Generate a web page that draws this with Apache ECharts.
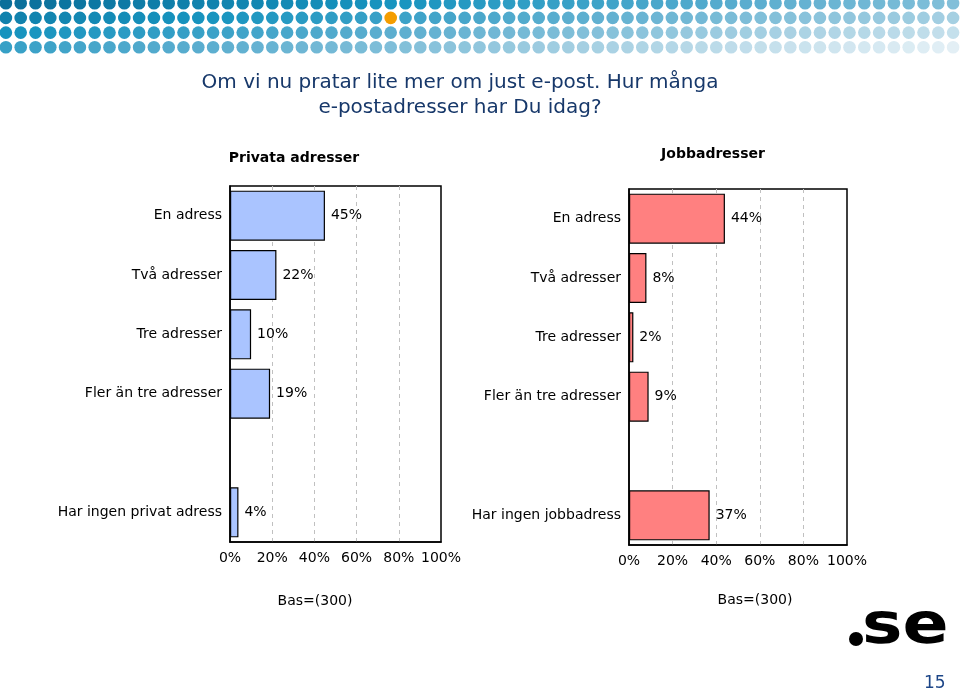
<!DOCTYPE html>
<html>
<head>
<meta charset="utf-8">
<script src="https://cdn.jsdelivr.net/npm/echarts@6/dist/echarts.min.js"></script>
<style>
html,body{margin:0;padding:0;background:#fff;}
#c{width:960px;height:691px;}
</style>
</head>
<body>
<div id="c"></div>
<script>
// ---- data ----
const categoriesPrivate = ['En adress', 'Två adresser', 'Tre adresser', 'Fler än tre adresser', '', 'Har ingen privat adress'];
const valuesPrivate = [45, 22, 10, 19, '-', 4];
const categoriesJob = ['En adress', 'Två adresser', 'Tre adresser', 'Fler än tre adresser', '', 'Har ingen jobbadress'];
const valuesJob = [44, 8, 2, 9, '-', 37];
const xTicks = [0, 20, 40, 60, 80, 100];
const titleLines = ['Om vi nu pratar lite mer om just e-post. Hur många', 'e-postadresser har Du idag?'];
const panelTitles = ['Privata adresser', 'Jobbadresser'];
const baseText = 'Bas=(300)';

// ---- decorative dot band ----
function lerp(a, b, t) { return a + (b - a) * t; }
function hex(c) { return [parseInt(c.slice(1,3),16), parseInt(c.slice(3,5),16), parseInt(c.slice(5,7),16)]; }
const palette = ['#0a6f9a', '#1794bf', '#5eafd0', '#a8d1e3', '#e8f2f7'].map(hex);
function colorAt(t) {
  t = Math.max(0, Math.min(1, t));
  const s = t * (palette.length - 1);
  const i = Math.min(palette.length - 2, Math.floor(s));
  const f = s - i;
  const c = palette[i].map((v, k) => Math.round(lerp(v, palette[i+1][k], f)));
  return 'rgb(' + c.join(',') + ')';
}
const dots = [];
for (let r = 0; r < 4; r++) {
  for (let c = 0; c < 65; c++) {
    const orange = (r === 1 && c === 26);
    dots.push({
      type: 'circle',
      silent: true,
      shape: { cx: 5.9 + c * 14.8, cy: 3.2 + r * 14.7, r: 6.3 },
      style: { fill: orange ? '#f49d00' : colorAt(c / 64 * 0.62 + r * 0.12) }
    });
  }
}

const font = 'DejaVu Sans, Verdana, sans-serif';
const chart = echarts.init(document.getElementById('c'), null, { renderer: 'canvas' });

function xAxisCfg(gi) {
  return {
    type: 'value', gridIndex: gi, min: 0, max: 100, interval: 20,
    axisLine: { show: true, lineStyle: { color: '#000', width: 1.5 } },
    axisTick: { show: false },
    axisLabel: { color: '#000', fontSize: 14, fontFamily: font, margin: 9,
      formatter: v => xTicks.indexOf(v) >= 0 ? v + '%' : '' },
    splitLine: { show: true, showMinLine: false, showMaxLine: false,
      lineStyle: { color: '#c0c0c0', type: [4, 4], width: 1 } }
  };
}
function yAxisCfg(gi, cats) {
  return {
    type: 'category', gridIndex: gi, data: cats, inverse: true,
    axisLine: { show: true, lineStyle: { color: '#000', width: 1.5 } },
    axisTick: { show: false },
    axisLabel: { color: '#000', fontSize: 14, fontFamily: font, margin: 8 }
  };
}
function barSeries(idx, vals, color) {
  return {
    type: 'bar', xAxisIndex: idx, yAxisIndex: idx, data: vals,
    barWidth: 50,
    itemStyle: { color: color, borderColor: '#000', borderWidth: 1.2 },
    label: { show: true, position: 'right', distance: 6, color: '#000', fontSize: 14,
      fontFamily: font, formatter: p => p.value + '%' },
    silent: true, animation: false
  };
}

chart.setOption({
  backgroundColor: '#fff',
  animation: false,
  title: [
    { text: titleLines.join('\n'), left: 460, top: 70, textAlign: 'center', padding: 0,
      textStyle: { color: '#17386a', fontSize: 20, fontWeight: 'normal', fontFamily: font, lineHeight: 25 } },
    { text: panelTitles[0], left: 294, top: 151, textAlign: 'center', padding: 0,
      textStyle: { color: '#000', fontSize: 14, fontWeight: 'bold', fontFamily: font } },
    { text: panelTitles[1], left: 713, top: 147, textAlign: 'center', padding: 0,
      textStyle: { color: '#000', fontSize: 14, fontWeight: 'bold', fontFamily: font } },
    { text: baseText, left: 315, top: 594, textAlign: 'center', padding: 0,
      textStyle: { color: '#000', fontSize: 14, fontWeight: 'normal', fontFamily: font } },
    { text: baseText, left: 755, top: 593, textAlign: 'center', padding: 0,
      textStyle: { color: '#000', fontSize: 14, fontWeight: 'normal', fontFamily: font } }
  ],
  grid: [
    { left: 230, top: 186, width: 211, height: 356, show: true, borderColor: '#000', borderWidth: 1.5, backgroundColor: 'transparent' },
    { left: 629, top: 189, width: 218, height: 356, show: true, borderColor: '#000', borderWidth: 1.5, backgroundColor: 'transparent' }
  ],
  xAxis: [xAxisCfg(0), xAxisCfg(1)],
  yAxis: [yAxisCfg(0, categoriesPrivate), yAxisCfg(1, categoriesJob)],
  series: [
    barSeries(0, valuesPrivate, '#aac4ff'),
    barSeries(1, valuesJob, '#ff8080')
  ],
  graphic: dots.concat([
    { type: 'circle', silent: true, shape: { cx: 856, cy: 639, r: 7 }, style: { fill: '#000' } },
    { type: 'text', silent: true, x: 862, y: 591, scaleY: 0.85, originY: 55,
      style: { text: 'se', fill: '#000', font: 'bold 68px "DejaVu Sans", Verdana, sans-serif' } },
    { type: 'text', silent: true, left: 924, top: 675,
      style: { text: '15', fill: '#1c4587', font: '17px ' + font } }
  ])
});
</script>
</body>
</html>
